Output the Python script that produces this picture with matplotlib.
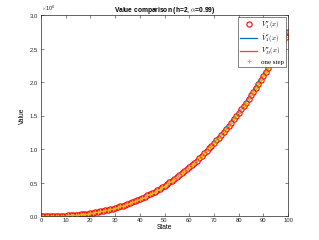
import matplotlib
matplotlib.use("Agg")
import matplotlib.pyplot as plt
from matplotlib.ticker import ScalarFormatter

# estados 0..100
estados = list(range(101))

# valores (en miles)
v_miles = [
    0, 0.02, 0.1, 0.3, 0.6, 1.1, 1.8, 2.7, 3.9, 5.3,
    6.9, 8.9, 11.1, 13.7, 16.6, 19.8, 23.4, 27.4, 31.8, 36.7,
    41.9, 47.6, 53.7, 60.2, 67.3, 74.8, 82.8, 91.4, 100.4, 110.0,
    120.2, 130.9, 142.2, 154.0, 166.4, 179.4, 193.0, 207.3, 222.2, 237.7,
    253.9, 270.7, 288.3, 306.4, 325.3, 344.9, 365.2, 386.2, 407.9, 430.4,
    453.6, 477.6, 502.3, 527.8, 554.1, 581.1, 609.0, 637.6, 667.2, 697.4,
    728.6, 760.6, 793.4, 827.2, 861.7, 897.2, 933.5, 970.8, 1008.9, 1047.9,
    1087.9, 1128.8, 1170.6, 1213.3, 1257.1, 1301.6, 1347.3, 1393.8, 1441.4, 1489.8,
    1539.4, 1589.9, 1641.5, 1693.9, 1747.7, 1802.3, 1858.0, 1914.6, 1972.4, 2031.2,
    2091.1, 2152.0, 2214.0, 2277.2, 2341.2, 2406.7, 2473.1, 2540.8, 2609.3, 2679.1,
    2750.0,
]
v_pi = [v * 1e3 for v in v_miles]
v_tilde = v_pi
v_d = v_pi
v_one = v_pi

plt.rcParams['font.family'] = ['Liberation Sans', 'DejaVu Sans']
plt.rcParams['mathtext.fontset'] = 'cm'

fig = plt.figure(figsize=(3.19, 2.40), dpi=100)
ax = fig.add_axes([0.1285, 0.1, 0.7745, 0.8375])

ax.plot(estados, v_pi, 'o', color='#FF0000', markerfacecolor='none',
        markersize=3.8, markeredgewidth=0.8, label=r'$V_1^{\pi}(x)$')
ax.plot(estados, v_tilde, '-', color='#0072BD', linewidth=0.9,
        drawstyle='steps-pre', label=r'$\tilde{V}_1^{\pi}(x)$')
ax.plot(estados, v_d, '-', color='#D95319', linewidth=0.9, label=r'$V_D^{\pi}(x)$')
ax.plot(estados, v_one, '+', color='#EDB120', markersize=3.5, markeredgewidth=0.8,
        label='one step')

ax.set_xlim(0, 100)
ax.set_ylim(0, 3e6)
ax.set_xticks(range(0, 101, 10))
ax.set_yticks([0, 0.5e6, 1e6, 1.5e6, 2e6, 2.5e6, 3e6])
fmt = ScalarFormatter(useMathText=True)
fmt.set_powerlimits((0, 0))
ax.yaxis.set_major_formatter(fmt)
ax.yaxis.get_offset_text().set_fontsize(4)

ax.tick_params(direction='in', top=True, right=True, labelsize=4.2,
               length=2, width=0.4, colors='0.15', pad=1.5)
for s in ax.spines.values():
    s.set_linewidth(0.5)
    s.set_color('0.15')

ax.set_xlabel('State', fontsize=4.8, labelpad=1)
ax.set_ylabel('Value', fontsize=4.8, labelpad=2)
ax.set_title(r'Value comparison (h=2, $\alpha$=0.99)', fontsize=4.8,
             fontweight='bold', pad=2)

leg = ax.legend(loc='upper right', fontsize=5, frameon=True, fancybox=False,
                edgecolor='0.15', framealpha=1, borderaxespad=0.35,
                handlelength=2.4, labelspacing=0.2, borderpad=0.3,
                handletextpad=0.5,
                prop={'family': ['Liberation Serif', 'DejaVu Serif'], 'size': 5})
leg.get_frame().set_linewidth(0.4)

plt.savefig('out.png', dpi=100)
